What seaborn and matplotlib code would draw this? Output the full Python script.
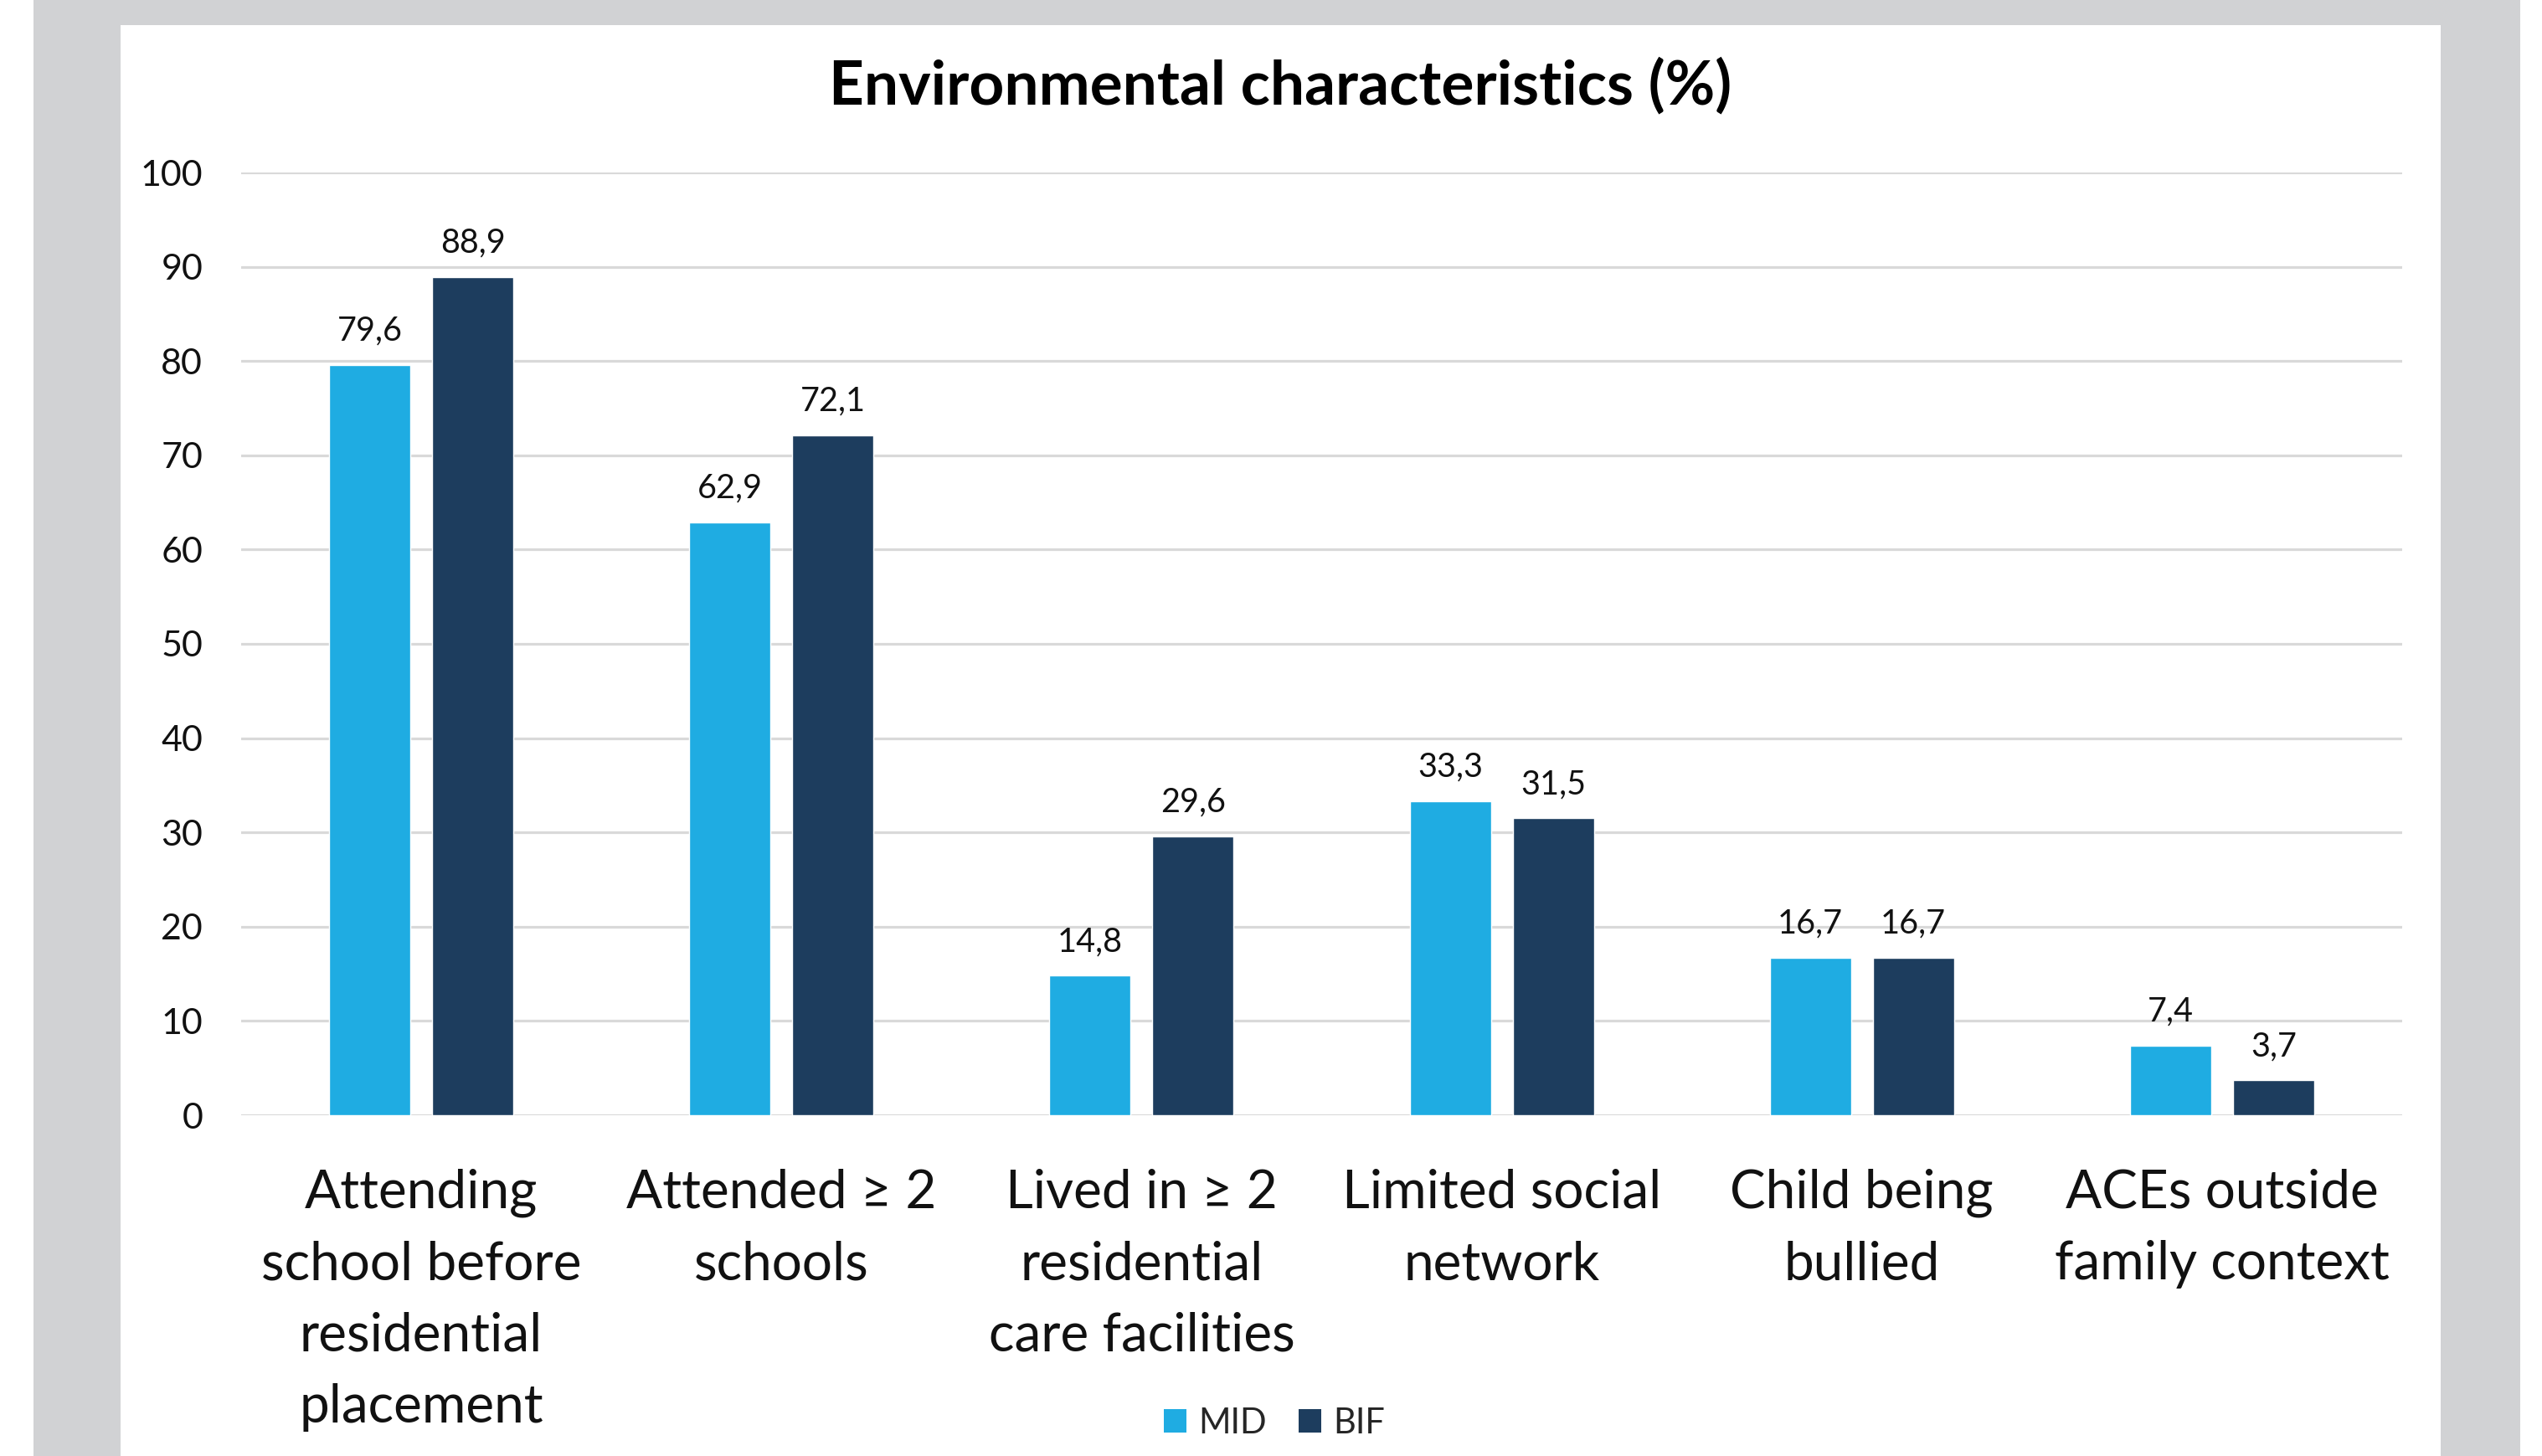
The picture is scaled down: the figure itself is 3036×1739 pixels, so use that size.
import matplotlib
matplotlib.use("Agg")
import matplotlib.pyplot as plt
import matplotlib.patches as mpatches
import seaborn as sns
import pandas as pd

# Data
categories = [
    "Attending\nschool before\nresidential\nplacement",
    "Attended \u2265 2\nschools",
    "Lived in \u2265 2\nresidential\ncare facilities",
    "Limited social\nnetwork",
    "Child being\nbullied",
    "ACEs outside\nfamily context",
]
groups = ["MID", "BIF"]
mid_values = [79.6, 62.9, 14.8, 33.3, 16.7, 7.4]
bif_values = [88.9, 72.1, 29.6, 31.5, 16.7, 3.7]
y_ticks = [0, 10, 20, 30, 40, 50, 60, 70, 80, 90, 100]

colors = {"MID": "#1FACE2", "BIF": "#1D3D5E"}

df = pd.DataFrame({
    "category": categories * 2,
    "group": ["MID"] * len(categories) + ["BIF"] * len(categories),
    "value": mid_values + bif_values,
})

sns.set_theme(style="white")
plt.rcParams["font.family"] = ["Lato", "DejaVu Sans"]

W, H, DPI = 3036, 1739, 100
fig = plt.figure(figsize=(W / DPI, H / DPI), dpi=DPI, facecolor="white")

# Grey frame with white panel behind the chart
fig.patches.append(mpatches.Rectangle((40 / W, 0), 2970 / W, 1, transform=fig.transFigure,
                                      facecolor="#D1D2D4", edgecolor="none", zorder=-10))
fig.patches.append(mpatches.Rectangle((144 / W, 0), 2771 / W, (H - 30) / H, transform=fig.transFigure,
                                      facecolor="white", edgecolor="none", zorder=-9))

ax = fig.add_axes([288 / W, 1 - 1332 / H, (2869 - 288) / W, (1332 - 206) / H])
ax.set_zorder(5)
ax.set_facecolor("none")

sns.barplot(data=df, x="category", y="value", hue="group", order=categories,
            hue_order=groups, palette=colors, saturation=1, width=0.572, gap=0.211,
            errorbar=None, ax=ax, legend=False, zorder=3)

ax.set_ylim(0, 100)
ax.set_yticks(y_ticks)
ax.set_yticklabels([str(t) for t in y_ticks], fontsize=31, color="#111111")
ax.tick_params(axis="y", length=0, pad=33)
ax.tick_params(axis="x", length=0, pad=46, labelsize=46, labelcolor="#111111")
for lab in ax.get_xticklabels():
    lab.set_linespacing(1.58)
ax.set_xlabel("")
ax.set_ylabel("")
ax.yaxis.grid(True, color="#D9D9D9", linewidth=2.3, zorder=0)
ax.set_axisbelow(True)
for s in ax.spines.values():
    s.set_visible(False)

for cont, vals in zip(ax.containers, [mid_values, bif_values]):
    ax.bar_label(cont, labels=[f"{v:.1f}".replace(".", ",") for v in vals],
                 padding=16, fontsize=28.5, color="#111111")

fig.text(1529 / W, 1 - 103 / H, "Environmental characteristics (%)", ha="center", va="center",
         fontsize=52.5, fontweight="bold", color="#000000")

handles = [mpatches.Patch(facecolor=colors[g], edgecolor="none") for g in groups]
fig.legend(handles, groups, loc="center", bbox_to_anchor=(1522 / W, 1 - 1700 / H),
           ncol=2, frameon=False, fontsize=30, handlelength=0.65, handleheight=0.65,
           handletextpad=0.35, columnspacing=0.9, borderpad=0)

fig.savefig("out.png", dpi=DPI, facecolor="white")
